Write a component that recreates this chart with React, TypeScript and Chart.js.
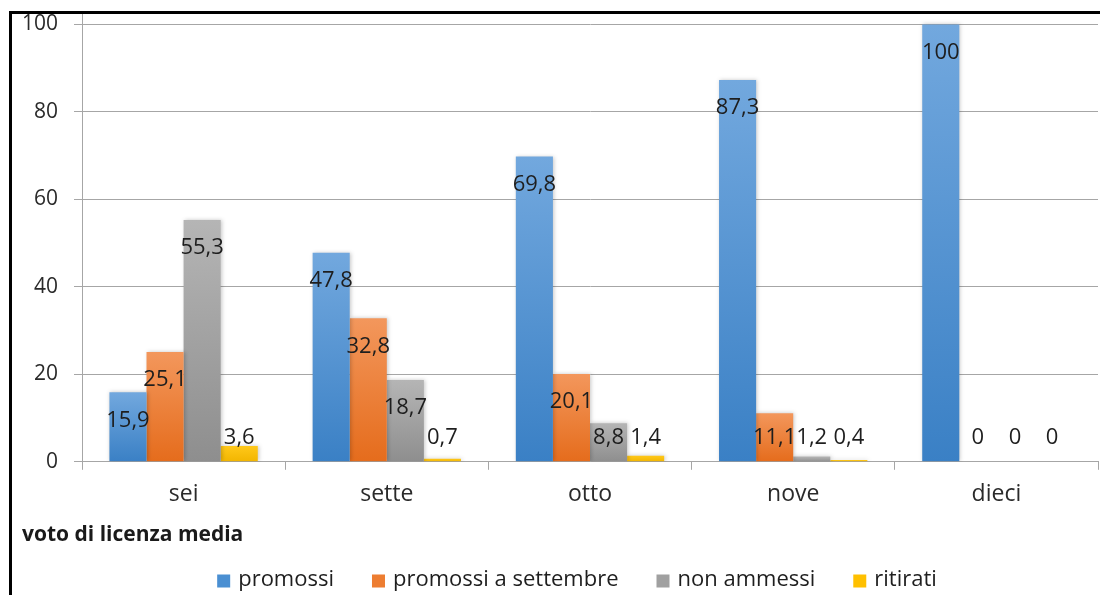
import React, { useEffect, useRef } from 'react';
import { Chart, registerables } from 'chart.js';

Chart.register(...registerables);

const categories = ['sei', 'sette', 'otto', 'nove', 'dieci'];
const seriesLabels = ['promossi', 'promossi a settembre', 'non ammessi', 'ritirati'];
const promossi = [15.9, 47.8, 69.8, 87.3, 100];
const promossiSettembre = [25.1, 32.8, 20.1, 11.1, 0];
const nonAmmessi = [55.3, 18.7, 8.8, 1.2, 0];
const ritirati = [3.6, 0.7, 1.4, 0.4, 0];
const yTickValues = [0, 20, 40, 60, 80, 100];
const xAxisTitle = 'voto di licenza media';

const FONT = "'Open Sans', 'Liberation Sans', sans-serif";

const palette = [
  { top: '#72a8de', bottom: '#3a80c5', legend: '#4a8fd2' },
  { top: '#f3975c', bottom: '#e56c1c', legend: '#ed7d31' },
  { top: '#b5b5b5', bottom: '#8e8e8e', legend: '#a0a0a0' },
  { top: '#ffc81a', bottom: '#f2b500', legend: '#ffc000' },
];

function gradientFill(idx: number) {
  return (ctx: any) => {
    const chart = ctx.chart;
    const c = palette[idx];
    if (!chart.chartArea || ctx.raw === undefined) return c.legend;
    const ys = chart.scales.y;
    const top = ys.getPixelForValue(ctx.raw);
    const bottom = ys.getPixelForValue(0);
    if (bottom - top < 1) return c.bottom;
    const g = chart.ctx.createLinearGradient(0, top, 0, bottom);
    g.addColorStop(0, c.top);
    g.addColorStop(1, c.bottom);
    return g;
  };
}

const barDecor = {
  id: 'barDecor',
  beforeDatasetsDraw(chart: any) {
    const ctx = chart.ctx;
    ctx.save();
    ctx.shadowColor = 'rgba(0,0,0,0.22)';
    ctx.shadowBlur = 4;
    ctx.shadowOffsetX = 1;
    ctx.shadowOffsetY = 0;
  },
  afterDatasetsDraw(chart: any) {
    const ctx = chart.ctx;
    ctx.restore();
    const ys = chart.scales.y;
    const base = ys.getPixelForValue(0);
    ctx.save();
    ctx.font = `22px ${FONT}`;
    ctx.fillStyle = '#1e1e1e';
    ctx.textAlign = 'center';
    ctx.textBaseline = 'middle';
    chart.data.datasets.forEach((ds: any, i: number) => {
      const meta = chart.getDatasetMeta(i);
      meta.data.forEach((el: any, j: number) => {
        const v = ds.data[j];
        const y = Math.min(el.y + 28, base - 24);
        ctx.fillText(String(v).replace('.', ','), el.x, y);
      });
    });
    ctx.restore();
  },
};

const customLegend = {
  id: 'customLegend',
  afterDraw(chart: any) {
    const ctx = chart.ctx;
    ctx.save();
    ctx.font = `22px ${FONT}`;
    ctx.textBaseline = 'middle';
    ctx.textAlign = 'left';
    const box = 13;
    const gap = 8;
    const spacing = 38;
    const items = chart.data.datasets.map((ds: any, i: number) => ({
      text: ds.label,
      color: palette[i].legend,
      w: box + gap + ctx.measureText(ds.label).width,
    }));
    const total = items.reduce((s: number, it: any) => s + it.w, 0) + spacing * (items.length - 1);
    let x = 577 - total / 2;
    const cy = 580;
    items.forEach((it: any) => {
      ctx.fillStyle = it.color;
      ctx.fillRect(x, cy - box / 2 + 1, box, box);
      ctx.fillStyle = '#1e1e1e';
      ctx.fillText(it.text, x + box + gap, cy);
      x += it.w + spacing;
    });
    ctx.restore();
  },
};

export default function App() {
  const ref = useRef<HTMLCanvasElement>(null);

  useEffect(() => {
    document.body.style.margin = '0';
    if (!ref.current) return;
    const series = [promossi, promossiSettembre, nonAmmessi, ritirati];
    const chart = new Chart(ref.current, {
      type: 'bar',
      data: {
        labels: categories,
        datasets: series.map((d, i) => ({
          label: seriesLabels[i],
          data: d,
          backgroundColor: gradientFill(i),
          borderWidth: 0,
          categoryPercentage: 0.73,
          barPercentage: 1.0,
        })),
      },
      options: {
        animation: false,
        responsive: false,
        maintainAspectRatio: false,
        layout: { padding: { left: 22, right: 2, top: 14, bottom: 0 } },
        plugins: {
          legend: { display: false },
          tooltip: { enabled: false },
          title: {
            display: true,
            text: xAxisTitle,
            position: 'bottom',
            align: 'start',
            color: '#1a1a1a',
            font: { family: FONT, size: 21, weight: 'bold' },
            padding: { top: 17, bottom: 47 },
          },
        },
        scales: {
          x: {
            grid: { display: true, drawOnChartArea: false, tickLength: 8, color: '#a6a6a6', offset: true },
            border: { color: '#a6a6a6' },
            ticks: { font: { family: FONT, size: 23 }, color: '#2a2a2a', padding: 11 },
            afterFit: (s: any) => { s.height = 44; },
          },
          y: {
            min: 0,
            max: 102.4,
            afterBuildTicks: (s: any) => { s.ticks = yTickValues.map((v) => ({ value: v })); },
            grid: { color: '#a6a6a6', tickLength: 8 },
            border: { color: '#a6a6a6' },
            ticks: { font: { family: FONT, size: 21 }, color: '#2a2a2a', padding: 16 },
            afterFit: (s: any) => { s.width = 60; s.paddingTop = 0; s.paddingBottom = 0; },
          },
        },
      },
      plugins: [barDecor, customLegend],
    });
    return () => chart.destroy();
  }, []);

  return (
    <div style={{ position: 'relative', width: 1100, height: 595, overflow: 'hidden', background: '#fff' }}>
      <canvas ref={ref} width={1100} height={595} style={{ display: 'block' }} />
      <div
        style={{
          position: 'absolute',
          left: 9,
          top: 11,
          width: 1200,
          height: 700,
          borderLeft: '3px solid #000',
          borderTop: '3px solid #000',
          pointerEvents: 'none',
        }}
      />
    </div>
  );
}
